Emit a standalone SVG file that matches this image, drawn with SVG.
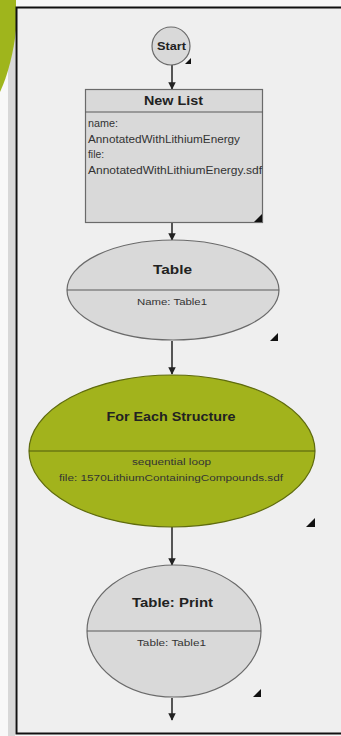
<svg xmlns="http://www.w3.org/2000/svg" width="341" height="736" viewBox="0 0 341 736">
<style>
.node{fill:#d9d9d9;stroke:#6a6a6a;stroke-width:1.2}
.green{fill:#a2b31c;stroke:#5f6b0e;stroke-width:1.2}
.div{stroke:#5a5a5a;stroke-width:1.2}
.t{font-family:"Liberation Sans",Arial,sans-serif;fill:#222;text-anchor:middle}
.b{font-weight:bold;font-size:12px}
.s{font-size:8.5px;fill:#333}
.l{font-family:"Liberation Sans",Arial,sans-serif;font-size:10px;fill:#333}
.edge{stroke:#222;stroke-width:1.5;fill:none;marker-end:url(#ah)}
.tri{fill:#111}
</style>
<defs>
<marker id="ah" viewBox="0 0 10 10" refX="9" refY="5" markerWidth="5" markerHeight="5" orient="auto">
<path d="M0,0 L10,5 L0,10 z" fill="#222"/>
</marker>
</defs>
<rect x="0" y="0" width="341" height="736" fill="#f8f8f8"/>
<rect x="8" y="0" width="7" height="736" fill="#d8d8d8"/>
<path d="M0,0 L16,0 L16,30 C14,50 8,75 0,92 Z" fill="#9fb51c"/>
<rect x="16.5" y="7.5" width="330" height="726" fill="#efefef" stroke="#111" stroke-width="2"/>

<g id="connectors">
<line class="edge" x1="172" y1="65" x2="172" y2="89"/>
<line class="edge" x1="172" y1="223" x2="172" y2="240"/>
<line class="edge" x1="172" y1="341" x2="172" y2="374"/>
<line class="edge" x1="172" y1="527" x2="172" y2="565"/>
<line class="edge" x1="172" y1="698" x2="172" y2="720"/>
</g>

<g id="start">
<circle class="node" cx="171" cy="46" r="19"/>
<text class="t" x="171.5" y="49.5" font-size="10.5" font-weight="bold" textLength="29" lengthAdjust="spacingAndGlyphs">Start</text>
<path class="tri" d="M191,58 L191,64 L185,64 Z"/>
</g>

<g id="newlist">
<rect class="node" x="85.5" y="89.5" width="177" height="133"/>
<line class="div" x1="85.5" y1="112" x2="262.5" y2="112"/>
<text class="t b" x="173.5" y="105" textLength="59" lengthAdjust="spacingAndGlyphs">New List</text>
<text class="l" x="88" y="127" textLength="30" lengthAdjust="spacingAndGlyphs">name:</text>
<text class="l" x="88" y="142.5" textLength="152" lengthAdjust="spacingAndGlyphs">AnnotatedWithLithiumEnergy</text>
<text class="l" x="88" y="158" textLength="16" lengthAdjust="spacingAndGlyphs">file:</text>
<text class="l" x="88" y="173.5" textLength="174" lengthAdjust="spacingAndGlyphs">AnnotatedWithLithiumEnergy.sdf</text>
<path class="tri" d="M262,214 L262,222 L254,222 Z"/>
</g>

<g id="table">
<ellipse class="node" cx="173" cy="290" rx="106" ry="50"/>
<line class="div" x1="67" y1="290" x2="279" y2="290"/>
<text class="t b" x="172.5" y="274" textLength="39" lengthAdjust="spacingAndGlyphs">Table</text>
<text class="t s" x="172" y="304.5" textLength="70" lengthAdjust="spacingAndGlyphs">Name: Table1</text>
<path class="tri" d="M278,333 L278,341 L270,341 Z"/>
</g>

<g id="foreach">
<ellipse class="green" cx="172" cy="451" rx="143" ry="76"/>
<line x1="29" y1="451" x2="315" y2="451" stroke="#4f5a0c" stroke-width="1.2"/>
<text class="t b" x="171" y="421" fill="#1e2400" font-size="11.5" textLength="129" lengthAdjust="spacingAndGlyphs">For Each Structure</text>
<text class="t s" x="171.5" y="465" fill="#222" textLength="79" lengthAdjust="spacingAndGlyphs">sequential loop</text>
<text class="t s" x="171" y="481" fill="#222" textLength="224" lengthAdjust="spacingAndGlyphs">file: 1570LithiumContainingCompounds.sdf</text>
<path class="tri" d="M315,518 L315,527 L306,527 Z"/>
</g>

<g id="print">
<ellipse class="node" cx="174" cy="631" rx="87" ry="66"/>
<line class="div" x1="87" y1="631" x2="261" y2="631"/>
<text class="t b" x="172.5" y="607" textLength="81" lengthAdjust="spacingAndGlyphs">Table: Print</text>
<text class="t s" x="171.5" y="646" textLength="69" lengthAdjust="spacingAndGlyphs">Table: Table1</text>
<path class="tri" d="M261,689 L261,697 L253,697 Z"/>
</g>
</svg>
